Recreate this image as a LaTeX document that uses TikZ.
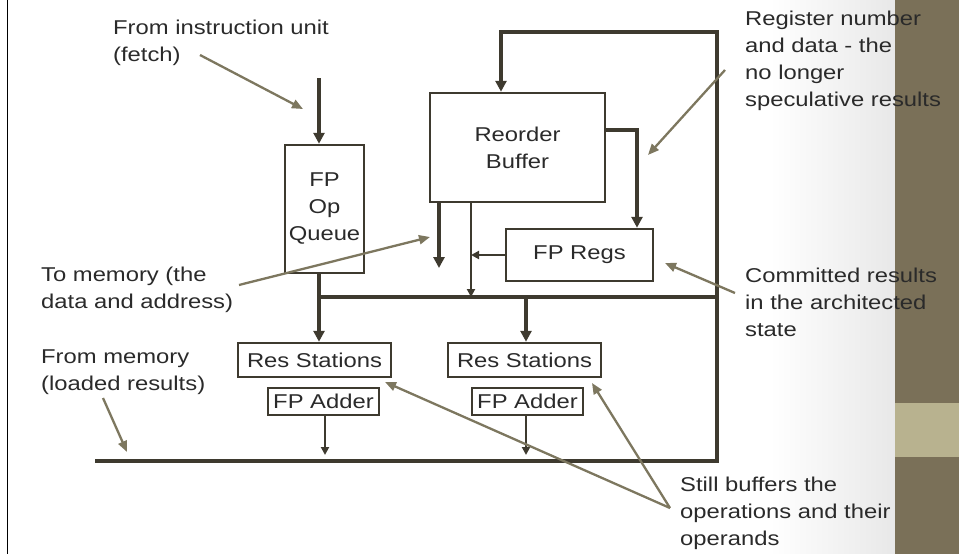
\documentclass[tikz,border=0pt]{standalone}
\usepackage{fontspec}
\setmainfont{Liberation Sans}[FakeStretch=1.19]
\usetikzlibrary{arrows.meta}
\definecolor{dk}{HTML}{3E3A2F}
\definecolor{ol}{HTML}{7D775F}
\definecolor{txt}{HTML}{2A2A2A}
\definecolor{strip}{HTML}{7A7058}
\definecolor{band}{HTML}{B8B28F}
\definecolor{fade}{HTML}{E8E8E8}
\tikzset{
  every node/.style={font=\fontsize{20}{27}\selectfont, text=txt},
  box/.style={draw=dk, line width=2.5pt, inner sep=0pt, align=center},
  lbl/.style={inner sep=0pt, align=left},
  thickline/.style={draw=dk, line width=3.3pt},
  thickarrow/.style={draw=dk, line width=3.3pt, -{Triangle[width=11pt,length=11pt]}},
  thinarrow/.style={draw=dk, line width=2pt, -{Triangle[width=8pt,length=8pt]}},
  ann/.style={draw=ol, line width=2.3pt, -{Triangle[width=9pt,length=11pt]}}
}
\begin{document}
\begin{tikzpicture}[x=1pt,y=-1pt,line join=miter]
\useasboundingbox (0,0) rectangle (959,554);
% background
\shade[left color=white,right color=fade] (770,0) rectangle (895,554);
\fill[strip] (895,0) rectangle (959,554);
\fill[band] (895,403) rectangle (959,457);
\draw[black,line width=1.5pt] (7.5,0) -- (7.5,554);

% boxes
\node[box, minimum width=79pt, minimum height=128pt] (queue) at (324.5,209) {FP\\Op\\Queue};
\node[box, minimum width=175pt, minimum height=109pt] (rob) at (517.5,147.5) {Reorder\\Buffer};
\node[box, minimum width=147pt, minimum height=52pt] (regs) at (579.5,255) {FP Regs};
\node[box, minimum width=153pt, minimum height=34pt] (rs1) at (314.5,360) {Res Stations};
\node[box, minimum width=153pt, minimum height=34pt] (rs2) at (524.5,360) {Res Stations};
\node[box, minimum width=111pt, minimum height=27pt] (add1) at (323.5,401.5) {FP Adder};
\node[box, minimum width=111pt, minimum height=27pt] (add2) at (527.5,401.5) {FP Adder};

% coordinates
\coordinate (fetchtop) at (319,78);
\coordinate (mbL) at (319,297);
\coordinate (mbR) at (717,297);
\coordinate (mb2) at (526,297);
\coordinate (bbL) at (95,461);
\coordinate (bbR) at (717,461);
\coordinate (topR) at (717,32);
\coordinate (topL) at (501,32);
\coordinate (rr) at (637,130);
\coordinate (rb1) at (439,268);
\coordinate (rb2) at (471,297);
\coordinate (ad1) at (325,455);
\coordinate (ad2) at (526,455);

% data paths
\draw[thickarrow] (fetchtop) -- (fetchtop |- queue.north);
\draw[thickarrow] (fetchtop |- queue.south) -- (fetchtop |- rs1.north);
\draw[thickline] (mbL) -- (mbR);
\draw[thickarrow] (mb2) -- (mb2 |- rs2.north);
\draw[thickarrow] (bbL) -- (bbR) -- (topR) -- (topL) -- (topL |- rob.north);
\draw[thickarrow] (rob.east |- rr) -- (rr) -- (rr |- regs.north);
\draw[thickarrow] (rb1 |- rob.south) -- (rb1);
\draw[thinarrow] (rb2 |- rob.south) -- (rb2);
\draw[thinarrow] (regs.west) -- (regs.west -| rb2);
\draw[thinarrow] (ad1 |- add1.south) -- (ad1);
\draw[thinarrow] (ad2 |- add2.south) -- (ad2);

% labels (base = baseline of last line)
\node[lbl, anchor=base west] (lfetch) at (113,61) {From instruction unit\\(fetch)};
\node[lbl, anchor=base west] (lto) at (41,308) {To memory (the\\data and address)};
\node[lbl, anchor=base west] (lfrom) at (41,390) {From memory\\(loaded results)};
\node[lbl, anchor=base west] (lreg) at (745,106) {Register number\\and data - the\\no longer\\speculative results};
\node[lbl, anchor=base west] (lcom) at (745,336) {Committed results\\in the architected\\state};
\node[lbl, anchor=base west] (lstill) at (680,545) {Still buffers the\\operations and their\\operands};

% annotation arrows
\coordinate (a1s) at (200,55);   \coordinate (a1e) at (303,109);
\coordinate (a2s) at (239,285);  \coordinate (a2e) at (430,237);
\coordinate (a3s) at (103,398);  \coordinate (a3e) at (127,452);
\coordinate (a4s) at (725,70);   \coordinate (a4e) at (648,155);
\coordinate (a5s) at (735,293);  \coordinate (a5e) at (665,263);
\coordinate (a6s) at (670,508);  \coordinate (a6e) at (592,383);
\coordinate (a7e) at (385,382);
\draw[ann] (a1s) -- (a1e);
\draw[ann] (a2s) -- (a2e);
\draw[ann] (a3s) -- (a3e);
\draw[ann] (a4s) -- (a4e);
\draw[ann] (a5s) -- (a5e);
\draw[ann] (a6s) -- (a6e);
\draw[ann] (a6s) -- (a7e);
\end{tikzpicture}
\end{document}
